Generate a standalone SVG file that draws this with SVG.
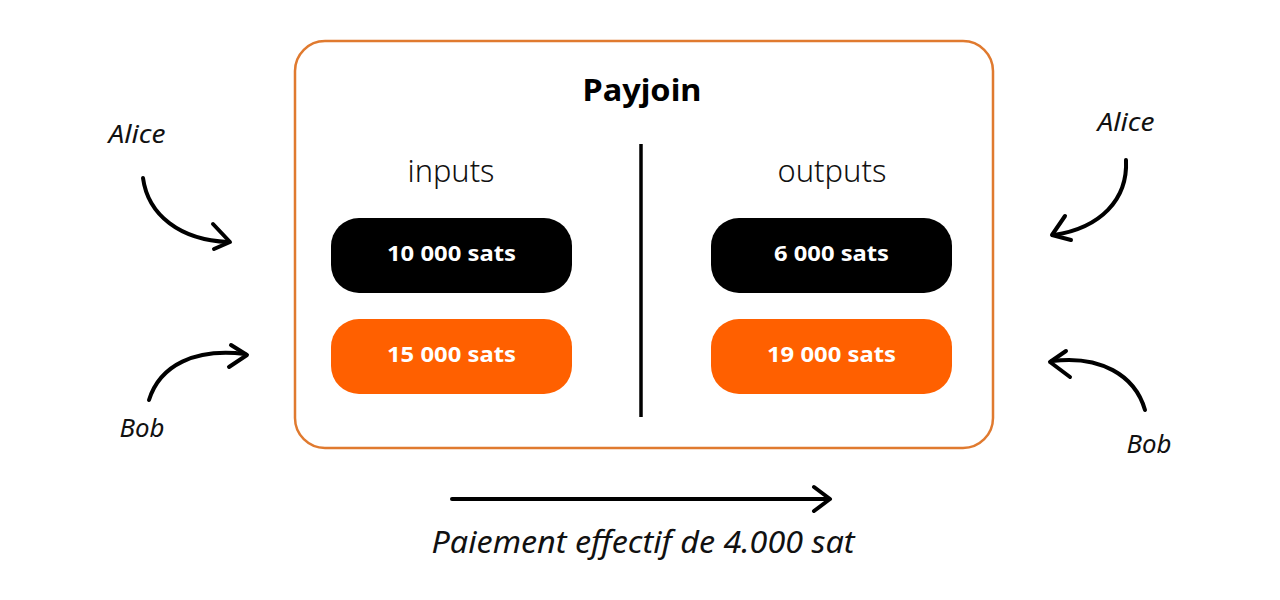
<svg xmlns="http://www.w3.org/2000/svg" width="1280" height="600" viewBox="0 0 1280 600">
<style>
.frame{fill:#fff;stroke:#e07a2f;stroke-width:2.5}
.pill-black{fill:#000}
.pill-orange{fill:#ff6000}
.pilltxt{font-family:"Noto Sans","Liberation Sans",sans-serif;font-weight:700;font-size:22px;fill:#fff;text-anchor:middle}
.head{font-family:"Noto Sans","Liberation Sans",sans-serif;font-weight:300;font-size:31px;fill:#111;text-anchor:middle}
.title{font-family:"Noto Sans","Liberation Sans",sans-serif;font-weight:700;font-size:31px;fill:#000;text-anchor:middle}
.lbl{font-family:"Noto Sans","Liberation Sans",sans-serif;font-style:italic;font-size:25px;fill:#111;text-anchor:middle}
.cap{font-family:"Noto Sans","Liberation Sans",sans-serif;font-style:italic;font-size:31px;fill:#111;text-anchor:middle}
.arr{fill:none;stroke:#000;stroke-width:4;stroke-linecap:round;stroke-linejoin:round}
</style>
<rect width="1280" height="600" fill="#fff"/>
<g id="payjoin">
<rect class="frame" x="295" y="41" width="698" height="407" rx="30"/>
<text class="title" x="642" y="101" textLength="119" lengthAdjust="spacingAndGlyphs">Payjoin</text>
<line x1="641" y1="144" x2="641" y2="417" stroke="#000" stroke-width="3.5"/>
<text class="head" x="451" y="182" textLength="87" lengthAdjust="spacingAndGlyphs">inputs</text>
<text class="head" x="832" y="182" textLength="109" lengthAdjust="spacingAndGlyphs">outputs</text>
</g>
<g id="in-alice">
<rect class="pill-black" x="331" y="218" width="241" height="75" rx="28"/>
<text class="pilltxt" x="451.5" y="261" textLength="129" lengthAdjust="spacingAndGlyphs">10 000 sats</text>
</g>
<g id="in-bob">
<rect class="pill-orange" x="331" y="319" width="241" height="75" rx="28"/>
<text class="pilltxt" x="451.5" y="362" textLength="129" lengthAdjust="spacingAndGlyphs">15 000 sats</text>
</g>
<g id="out-alice">
<rect class="pill-black" x="711" y="218" width="241" height="75" rx="28"/>
<text class="pilltxt" x="831.5" y="261" textLength="115" lengthAdjust="spacingAndGlyphs">6 000 sats</text>
</g>
<g id="out-bob">
<rect class="pill-orange" x="711" y="319" width="241" height="75" rx="28"/>
<text class="pilltxt" x="831.5" y="362" textLength="129" lengthAdjust="spacingAndGlyphs">19 000 sats</text>
</g>
<g id="label-alice-left"><text class="lbl" x="137" y="143" textLength="57" lengthAdjust="spacingAndGlyphs">Alice</text></g>
<g id="label-bob-left"><text class="lbl" x="142" y="437" textLength="45" lengthAdjust="spacingAndGlyphs">Bob</text></g>
<g id="label-alice-right"><text class="lbl" x="1126" y="131" textLength="57" lengthAdjust="spacingAndGlyphs">Alice</text></g>
<g id="label-bob-right"><text class="lbl" x="1149" y="453" textLength="45" lengthAdjust="spacingAndGlyphs">Bob</text></g>
<g id="connectors">
<path class="arr" d="M143,178 C148,215 180,240 228,242"/>
<path class="arr" d="M213,224 L230,242 L214,249"/>
<path class="arr" d="M149,400 C160,365 195,348 245,354"/>
<path class="arr" d="M231,345 L247,355 L229,367"/>
<path class="arr" d="M1126,160 C1128,200 1100,228 1054,235"/>
<path class="arr" d="M1065,216 L1052,235 L1071,240"/>
<path class="arr" d="M1145,410 C1135,375 1100,355 1052,361"/>
<path class="arr" d="M1066,351 L1050,362 L1070,377"/>
<line class="arr" x1="452" y1="499" x2="828" y2="499" stroke-width="5"/>
<path class="arr" stroke-width="5" d="M814,487 L830,499 L814,511"/>
</g>
<g id="caption"><text class="cap" x="643" y="553" textLength="423" lengthAdjust="spacingAndGlyphs">Paiement effectif de 4.000 sat</text></g>
</svg>
